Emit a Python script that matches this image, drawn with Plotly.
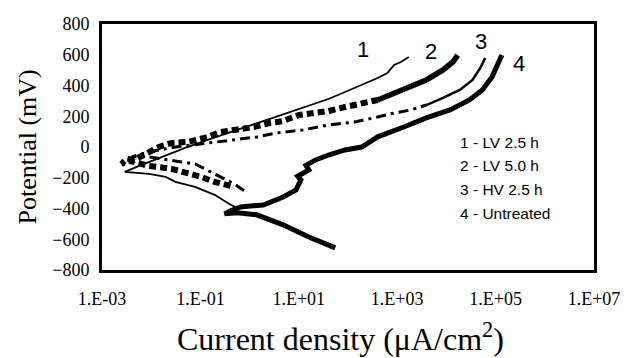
import plotly.graph_objects as go

# ---- data (current density in uA/cm2, potential in mV) ----
c1_i = [0.56, 0.41, 0.195, 0.078, 0.031, 0.0197, 0.009, 0.0029, 0.0057, 0.018, 0.049, 0.14,
        0.56, 1.4, 3.5, 12.1, 40, 87, 190, 400, 630, 860, 1190, 1720]
c1_e = [-396, -376, -311, -259, -227, -194, -175, -162, -123, -58, -6, 46,
        111, 150, 195, 254, 312, 358, 403, 449, 481, 533, 553, 585]

c2_i = [0.41, 0.195, 0.103, 0.057, 0.026, 0.009, 0.0036, 0.0025, 0.0032, 0.0045, 0.0079, 0.0143,
        0.026, 0.057, 0.14, 0.26, 0.49, 1.22, 2.55, 4.8, 10.1, 22, 40, 87, 190, 400, 860,
        1880, 3900, 8550, 13500, 17000]
c2_e = [-253, -227, -194, -168, -142, -123, -90, -110, -75, -84, -38, 0,
        26, 33, 65, 98, 111, 130, 156, 169, 208, 221, 234, 260, 286, 306, 351,
        390, 436, 501, 553, 598]

c3_i = [0.77, 0.49, 0.28, 0.14, 0.078, 0.041, 0.0226, 0.009, 0.004, 0.009, 0.031, 0.14,
        0.56, 1.4, 3.5, 12.1, 40, 138, 400, 860, 1880, 3900, 8550, 18700, 33900, 48900, 61500]
c3_e = [-285, -240, -201, -149, -110, -97, -84, -64, -64, -32, 0, 26,
        46, 65, 91, 111, 143, 163, 195, 221, 241, 273, 319, 371, 436, 514, 579]

c4_i = [55, 16, 4.8, 1.4, 0.56, 0.31, 0.41, 0.65, 1.9, 4.8, 8.8, 11, 9.5, 12.6, 16, 14, 22,
        40, 87, 190, 400, 1360, 3900, 11800, 29500, 53600, 84700, 134000]
c4_e = [-656, -585, -506, -441, -428, -435, -415, -390, -377, -325, -279, -214, -190, -170, -149,
        -120, -84, -52, -19, 0, 66, 130, 189, 241, 306, 371, 456, 598]

x_tickvals = [1e-3, 1e-1, 1e1, 1e3, 1e5, 1e7]
x_ticktext = ["1.E-03", "1.E-01", "1.E+01", "1.E+03", "1.E+05", "1.E+07"]
y_tickvals = [-800, -600, -400, -200, 0, 200, 400, 600, 800]

legend_lines = ["1 - LV 2.5 h", "2 - LV 5.0 h", "3 - HV 2.5 h", "4 - Untreated"]
curve_tags = ["1", "2", "3", "4"]

W, H = 632, 358
L, R, T, B = 102, 28, 24, 88
PW, PH = W - L - R, H - T - B

def px(x):
    return (x - L) / PW

def py(y):
    return (H - B - y) / PH

# index where the densely sampled (visually solid) upper part of curves 2 and 3 begins
k2 = c2_i.index(400)
k3 = c3_i.index(3900)

fig = go.Figure()
fig.add_trace(go.Scatter(x=c1_i, y=c1_e, mode="lines", line=dict(color="black", width=1.8)))
fig.add_trace(go.Scatter(x=c2_i[:k2 + 1], y=c2_e[:k2 + 1], mode="lines",
                         line=dict(color="black", width=6, dash="7px,4px")))
fig.add_trace(go.Scatter(x=c2_i[k2:], y=c2_e[k2:], mode="lines",
                         line=dict(color="black", width=5.5)))
fig.add_trace(go.Scatter(x=c3_i[:k3 + 1], y=c3_e[:k3 + 1], mode="lines",
                         line=dict(color="black", width=3, dash="10px,5px,3px,5px")))
fig.add_trace(go.Scatter(x=c3_i[k3:], y=c3_e[k3:], mode="lines",
                         line=dict(color="black", width=2.5)))
fig.add_trace(go.Scatter(x=c4_i, y=c4_e, mode="lines", line=dict(color="black", width=5)))

serif = "Liberation Serif"
sans = "Liberation Sans"

annotations = []
for i, t in enumerate(legend_lines):
    annotations.append(dict(x=px(465), y=py(142 + 23.7 * i), xref="paper", yref="paper",
                            text=t, showarrow=False, xanchor="left", yanchor="middle",
                            font=dict(family=sans, size=15.5, color="black")))
tag_pos = [(368, 49), (438, 52), (489, 41), (527, 63)]
for t, (tx, ty) in zip(curve_tags, tag_pos):
    annotations.append(dict(x=px(tx), y=py(ty), xref="paper", yref="paper", text=t,
                            showarrow=False, xanchor="center", yanchor="middle",
                            font=dict(family=sans, size=22, color="black")))
annotations.append(dict(x=px(345), y=py(337), xref="paper", yref="paper",
                        text="Current density (\u03bcA/cm<sup>2</sup>)", showarrow=False,
                        xanchor="center", yanchor="middle",
                        font=dict(family=serif, size=32, color="black")))
annotations.append(dict(x=px(25), y=py(147), xref="paper", yref="paper",
                        text="Potential (mV)", showarrow=False, textangle=-90,
                        xanchor="center", yanchor="middle",
                        font=dict(family=serif, size=26, color="black")))

fig.update_layout(
    width=W, height=H,
    margin=dict(l=L, r=R, t=T, b=B),
    paper_bgcolor="white", plot_bgcolor="white",
    showlegend=False,
    font=dict(family=serif, color="black"),
    annotations=annotations,
    xaxis=dict(type="log", range=[-3, 7], tickvals=x_tickvals, ticktext=x_ticktext,
               showgrid=False, zeroline=False, showline=True, linecolor="black",
               linewidth=3, mirror=True, ticks="", ticklabelstandoff=10,
               tickfont=dict(family=serif, size=18, color="black")),
    yaxis=dict(range=[-800, 800], tickvals=y_tickvals, showgrid=False, zeroline=False,
               showline=True, linecolor="black", linewidth=3, mirror=True, ticks="",
               ticklabelstandoff=6, tickfont=dict(family=serif, size=18, color="black")),
)

fig.write_html("out.html")
